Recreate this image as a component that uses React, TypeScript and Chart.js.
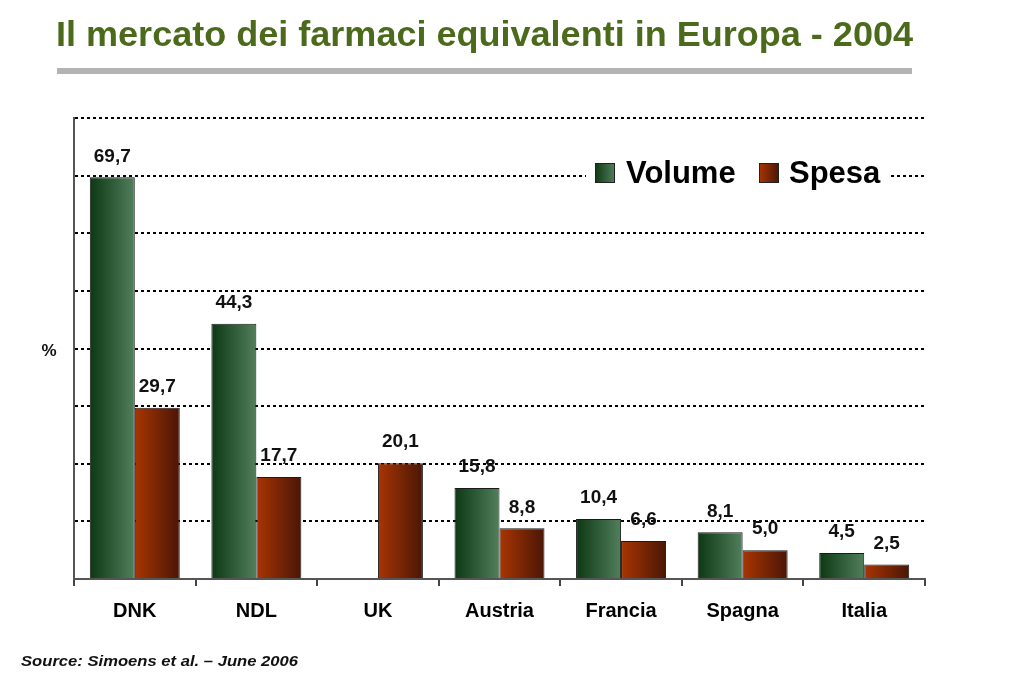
import { useEffect, useRef } from 'react';
import { Chart, registerables } from 'chart.js';

Chart.register(...registerables);

const FONT = '"Liberation Sans", Arial, Helvetica, sans-serif';

const categories = ['DNK', 'NDL', 'UK', 'Austria', 'Francia', 'Spagna', 'Italia'];
const volumeValues: (number | null)[] = [69.7, 44.3, null, 15.8, 10.4, 8.1, 4.5];
const spesaValues: (number | null)[] = [29.7, 17.7, 20.1, 8.8, 6.6, 5.0, 2.5];
const seriesNames = ['Volume', 'Spesa'];
const yMin = 0;
const yMax = 80;
const yStep = 10;
const titleText = 'Il mercato dei farmaci equivalenti in Europa - 2004';
const sourceText = 'Source: Simoens et al. \u2013 June 2006';
const yAxisLabel = '%';

const CAT_PCT = 0.74;
const GREEN = ['#0c3813', '#527f5c'];
const RED = ['#a83503', '#4a1606'];
const SERIES_COLORS = [GREEN, RED];

function barGradient(ctx: any) {
  const chart = ctx.chart;
  const colors = SERIES_COLORS[ctx.datasetIndex];
  const x = chart.scales && chart.scales.x;
  if (!x || !chart.chartArea) return colors[0];
  const center = x.getPixelForValue(ctx.dataIndex);
  const catW = (x.right - x.left) / categories.length;
  const bw = (catW * CAT_PCT) / 2;
  const left = center - (catW * CAT_PCT) / 2 + ctx.datasetIndex * bw;
  const g = chart.ctx.createLinearGradient(left, 0, left + bw, 0);
  g.addColorStop(0, colors[0]);
  g.addColorStop(1, colors[1]);
  return g;
}

function fmt(v: number) {
  return v.toFixed(1).replace('.', ',');
}

function fitText(ctx: CanvasRenderingContext2D, text: string, x: number, y: number, width: number) {
  const w = ctx.measureText(text).width;
  ctx.save();
  ctx.translate(x, y);
  ctx.scale(width / w, 1);
  ctx.fillText(text, 0, 0);
  ctx.restore();
}

const decorations = {
  id: 'decorations',
  afterDatasetsDraw(chart: any) {
    const ctx: CanvasRenderingContext2D = chart.ctx;
    ctx.save();
    // data labels
    ctx.fillStyle = '#111';
    ctx.font = `bold 19px ${FONT}`;
    ctx.textAlign = 'center';
    ctx.textBaseline = 'middle';
    chart.data.datasets.forEach((ds: any, di: number) => {
      const meta = chart.getDatasetMeta(di);
      meta.data.forEach((bar: any, i: number) => {
        const v = ds.data[i];
        if (v === null || v === undefined) return;
        ctx.fillText(fmt(v), bar.x, bar.y - 21);
      });
    });

    // legend
    ctx.fillStyle = '#ffffff';
    ctx.fillRect(586, 152, 302, 44);
    ctx.font = `bold 31px ${FONT}`;
    ctx.textAlign = 'left';
    ctx.textBaseline = 'middle';
    const items = [
      { x: 595, tx: 626 },
      { x: 759, tx: 789 },
    ];
    items.forEach((it, i) => {
      const g = ctx.createLinearGradient(it.x, 0, it.x + 20, 0);
      g.addColorStop(0, SERIES_COLORS[i][0]);
      g.addColorStop(1, SERIES_COLORS[i][1]);
      ctx.fillStyle = g;
      ctx.fillRect(it.x, 163, 20, 20);
      ctx.strokeStyle = '#222';
      ctx.lineWidth = 1;
      ctx.strokeRect(it.x + 0.5, 163.5, 19, 19);
      ctx.fillStyle = '#000';
      ctx.fillText(seriesNames[i], it.tx, 174);
    });
    ctx.restore();
  },
  afterDraw(chart: any) {
    const ctx: CanvasRenderingContext2D = chart.ctx;
    ctx.save();
    // title
    ctx.fillStyle = '#4b6a1c';
    ctx.font = `bold 35px ${FONT}`;
    ctx.textAlign = 'left';
    ctx.textBaseline = 'alphabetic';
    fitText(ctx, titleText, 56, 46, 857);
    // grey rule
    ctx.fillStyle = '#b3b3b3';
    ctx.fillRect(57, 68, 855, 6);
    // source
    ctx.fillStyle = '#111';
    ctx.font = `italic bold 15px ${FONT}`;
    fitText(ctx, sourceText, 21, 666, 277);
    // % label
    ctx.font = `bold 17px ${FONT}`;
    ctx.textAlign = 'center';
    ctx.textBaseline = 'middle';
    ctx.fillText(yAxisLabel, 49, 351);
    ctx.restore();
  },
};

export default function App() {
  const ref = useRef<HTMLCanvasElement | null>(null);
  useEffect(() => {
    document.body.style.margin = '0';
    const canvas = ref.current;
    if (!canvas) return;
    const chart = new Chart(canvas, {
      type: 'bar',
      data: {
        labels: categories,
        datasets: [
          {
            label: seriesNames[0],
            data: volumeValues,
            backgroundColor: barGradient,
            borderColor: '#1a1a1a',
            borderWidth: 1,
            categoryPercentage: CAT_PCT,
            barPercentage: 1,
          },
          {
            label: seriesNames[1],
            data: spesaValues,
            backgroundColor: barGradient,
            borderColor: '#1a1a1a',
            borderWidth: 1,
            categoryPercentage: CAT_PCT,
            barPercentage: 1,
          },
        ],
      },
      options: {
        responsive: false,
        animation: false,
        devicePixelRatio: 1,
        layout: { padding: { left: 74, right: 98, top: 118, bottom: 0 } },
        plugins: {
          legend: { display: false },
          title: { display: false },
          tooltip: { enabled: false },
        },
        scales: {
          x: {
            grid: {
              display: true,
              drawOnChartArea: false,
              drawTicks: true,
              tickLength: 7,
              color: '#444',
              lineWidth: 2,
              offset: true,
            },
            border: { display: true, color: '#555', width: 2 },
            ticks: {
              color: '#000',
              font: { family: FONT, size: 20, weight: 'bold' },
              padding: 13,
            },
            afterFit(scale: any) {
              scale.height = 117;
            },
          },
          y: {
            min: yMin,
            max: yMax,
            ticks: { display: false, stepSize: yStep },
            grid: {
              drawTicks: false,
              color: (c: any) => (c.tick && c.tick.value === 0 ? 'rgba(0,0,0,0)' : '#000'),
              lineWidth: 2,
            },
            border: { display: true, color: '#555', width: 2, dash: [3, 3] },
            afterFit(scale: any) {
              scale.width = 0;
            },
          },
        },
      },
      plugins: [decorations],
    });
    return () => chart.destroy();
  }, []);
  return (
    <div style={{ width: 1023, height: 696, background: '#fff' }}>
      <canvas ref={ref} width={1023} height={696} style={{ display: 'block' }} />
    </div>
  );
}
